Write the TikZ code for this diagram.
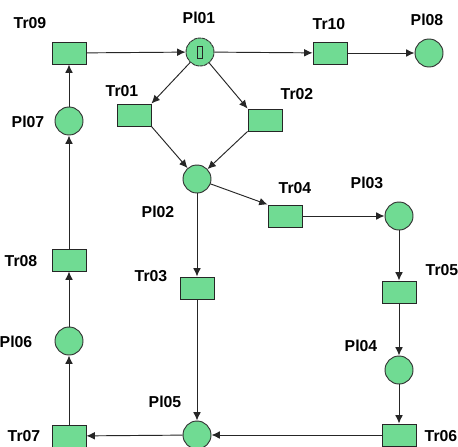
\documentclass[tikz,border=0pt]{standalone}
\usepackage{fontspec}
\setmainfont{Liberation Sans}
\usepackage{xcolor}
\usepackage{tikz}
\usetikzlibrary{arrows.meta,positioning}
\definecolor{netgreen}{RGB}{112,219,147}
\tikzset{
  placenode/.style={circle,draw=black!80,fill=netgreen,line width=0.8pt,
    minimum size=0.84cm,inner sep=0pt},
  transnode/.style={rectangle,draw=black!85,fill=netgreen,line width=0.8pt,
    minimum width=1.02cm,minimum height=0.66cm,inner sep=0pt},
  arcline/.style={-{Latex[length=2.5mm,width=2.3mm]},draw=black!85,line width=0.8pt},
  netlabel/.style={font=\fontsize{13.5}{15}\selectfont\bfseries,inner sep=0pt}
}
\begin{document}
\begin{tikzpicture}[x=0.03cm,y=-0.03cm]
  \clip (0,0) rectangle (458,446);
  \useasboundingbox (0,0) rectangle (458,446);
  \fill[white] (0,0) rectangle (458,446);

  % places
  \node[placenode,dash pattern=on 3pt off 0.5pt] (pl01) at (200,52) {};
  \node[placenode] (pl02) at (197,179) {};
  \node[placenode] (pl03) at (399,216) {};
  \node[placenode] (pl04) at (399,370) {};
  \node[placenode] (pl05) at (197,435) {};
  \node[placenode] (pl06) at (69,341) {};
  \node[placenode] (pl07) at (69,121) {};
  \node[placenode] (pl08) at (429,53) {};
  \node[draw=black!85,fill=netgreen,line width=0.8pt,minimum width=0.15cm,
    minimum height=0.36cm,inner sep=0pt] (tok) at (pl01) {};

  % transitions
  \node[transnode] (tr01) at (134,115) {};
  \node[transnode] (tr02) at (265,120) {};
  \node[transnode] (tr03) at (197,288) {};
  \node[transnode] (tr04) at (285,216) {};
  \node[transnode] (tr05) at (399,292) {};
  \node[transnode] (tr06) at (399,435) {};
  \node[transnode] (tr07) at (69,436) {};
  \node[transnode] (tr08) at (69,260) {};
  \node[transnode] (tr09) at (69,53) {};
  \node[transnode] (tr10) at (330,53) {};

  % labels
  \node[netlabel] (lpl01) at (199,18) {Pl01};
  \node[netlabel] (lpl02) at (158,212) {Pl02};
  \node[netlabel] (lpl03) at (367,183) {Pl03};
  \node[netlabel] (lpl04) at (361,346) {Pl04};
  \node[netlabel] (lpl05) at (165,402) {Pl05};
  \node[netlabel] (lpl06) at (16,342) {Pl06};
  \node[netlabel] (lpl07) at (28,122) {Pl07};
  \node[netlabel] (lpl08) at (427,20) {Pl08};
  \node[netlabel] (ltr01) at (122,91) {Tr01};
  \node[netlabel] (ltr02) at (297,94) {Tr02};
  \node[netlabel] (ltr03) at (151,276) {Tr03};
  \node[netlabel] (ltr04) at (295,188) {Tr04};
  \node[netlabel] (ltr05) at (442,270) {Tr05};
  \node[netlabel] (ltr06) at (441,436) {Tr06};
  \node[netlabel] (ltr07) at (24,436) {Tr07};
  \node[netlabel] (ltr08) at (21,261) {Tr08};
  \node[netlabel] (ltr09) at (30,23) {Tr09};
  \node[netlabel] (ltr10) at (329,24) {Tr10};

  % arcs
  \draw[arcline] (tr09) -- (pl01);
  \draw[arcline] (pl01) -- (tr10);
  \draw[arcline] (tr10) -- (pl08);
  \draw[arcline] (pl01) -- (tr01.north east);
  \draw[arcline] (pl01) -- (tr02.north west);
  \draw[arcline] (tr01.south east) -- (pl02);
  \draw[arcline] (tr02.south west) -- (pl02);
  \draw[arcline] (pl02) -- (tr04.north west);
  \draw[arcline] (pl02) -- (tr03);
  \draw[arcline] (tr04) -- (pl03);
  \draw[arcline] (pl03) -- (tr05);
  \draw[arcline] (tr05) -- (pl04);
  \draw[arcline] (pl04) -- (tr06);
  \draw[arcline] (tr06) -- (pl05);
  \draw[arcline] (tr03) -- (pl05);
  \draw[arcline] (pl05) -- (tr07);
  \draw[arcline] (tr07) -- (pl06);
  \draw[arcline] (pl06) -- (tr08);
  \draw[arcline] (tr08) -- (pl07);
  \draw[arcline] (pl07) -- (tr09);
\end{tikzpicture}
\end{document}
